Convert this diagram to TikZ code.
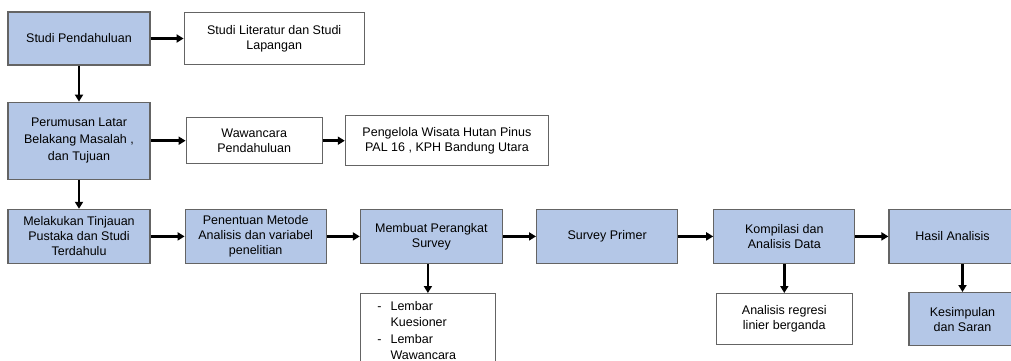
\documentclass[tikz,border=0pt]{standalone}
\usepackage{fontspec}
\setmainfont{Liberation Sans}
\usepackage{tikz}
\usetikzlibrary{shapes,arrows.meta}
\usetikzlibrary{positioning}
\definecolor{boxblue}{RGB}{180,199,231}
\definecolor{boxgray}{RGB}{100,100,100}
\tikzstyle{block} = [rectangle, draw=boxgray, fill=boxblue, line width=1.2pt, minimum width=141pt, minimum height=54pt, inner sep=2pt]
\tikzstyle{plain} = [rectangle, draw=boxgray, fill=white, line width=1.2pt, inner sep=2pt]
\tikzstyle{link} = [-{Triangle[length=7pt,width=8pt]}, line width=2.6pt]

\begin{document}
\begin{tikzpicture}[every text node part/.style={align=center}, font=\fontsize{12.5}{15}\selectfont]
   \useasboundingbox (0,0) rectangle (1011pt,-360pt);
   % Place nodes
   \node [block, minimum width=142pt, minimum height=53pt] (1) at (79pt,-38.5pt) {Studi Pendahuluan};
   \node [plain, right = 33pt of 1, minimum width=180pt, minimum height=52pt] (2) {Studi Literatur dan Studi\\Lapangan};
   \node [block, below = 36pt of 1, minimum width=142pt, minimum height=77pt] (3) {Perumusan Latar\\[2pt]Belakang Masalah ,\\[2pt]dan Tujuan};
   \node [plain, right = 35pt of 3, minimum width=136pt, minimum height=46pt] (4) {Wawancara\\Pendahuluan};
   \node [plain, right = 22pt of 4, minimum width=203pt, minimum height=50pt] (5) {Pengelola Wisata Hutan Pinus\\PAL 16 , KPH Bandung Utara};
   \node [block, below = 29pt of 3, minimum width=142pt] (6) {Melakukan Tinjauan\\Pustaka dan Studi\\Terdahulu};
   \node [block, right = 34pt of 6] (7) {Penentuan Metode\\Analisis dan variabel\\penelitian};
   \node [block, right = 33pt of 7, minimum width=142pt] (8) {Membuat Perangkat\\Survey};
   \node [plain, below right = 29pt and 0pt of 8.south west, text width=125pt, inner sep=5pt,
          every text node part/.style={align=left}, font=\fontsize{12.5}{16.5}\selectfont] (9)
          {\begin{tabular}{@{\hspace{12pt}}l@{\hspace{9pt}}l@{}}-&Lembar\\&Kuesioner\\-&Lembar\\&Wawancara\end{tabular}};
   \node [block, right = 33pt of 8] (10) {Survey Primer};
   \node [block, right = 35pt of 10] (11) {Kompilasi dan\\Analisis Data};
   \node [block, right = 33pt of 11, minimum width=127pt] (12) {Hasil Analisis};
   \node [plain, below = 29pt of 11, minimum width=136pt, minimum height=51pt] (13) {Analisis regresi\\linier berganda};
   \node [block, below left = 28pt and 0pt of 12.south east, minimum width=107pt, minimum height=53pt] (14) {Kesimpulan\\dan Saran};

   % Connect nodes
   \draw[link] (1) -- (2);
   \draw[link] (1) -- (3);
   \draw[link] (3) -- (4);
   \draw[link] (4) -- (5);
   \draw[link] (3) -- (6);
   \draw[link] (6) -- (7);
   \draw[link] (7) -- (8);
   \draw[link] (9.north |- 8.south) -- (9.north);
   \draw[link] (8) -- (10);
   \draw[link] (10) -- (11);
   \draw[link] (11) -- (12);
   \draw[link] (11) -- (13);
   \draw[link] (14.north |- 12.south) -- (14.north);
\end{tikzpicture}
\end{document}
